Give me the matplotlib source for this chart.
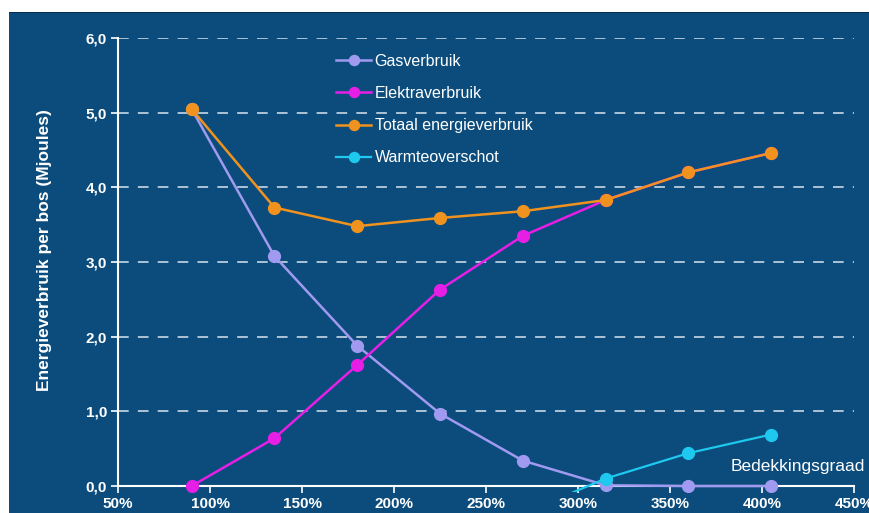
import matplotlib.pyplot as plt
from matplotlib.patches import Rectangle

# bedekkingsgraad (%)
bedekking = [90, 135, 180, 225, 270, 315, 360, 405]
gas = [5.05, 3.08, 1.88, 0.97, 0.34, 0.01, 0.0, 0.0]
elektra = [0.0, 0.64, 1.62, 2.63, 3.35, 3.83, 4.20, 4.46]
totaal = [5.05, 3.73, 3.48, 3.59, 3.68, 3.83, 4.20, 4.46]
warmte_x = [270, 315, 360, 405]
warmte = [-0.37, 0.10, 0.44, 0.69]

x_ticks = [50, 100, 150, 200, 250, 300, 350, 400, 450]
y_ticks = [0, 1, 2, 3, 4, 5, 6]

bg = "#0b4c7c"
plt.rcParams['font.family'] = ['Liberation Sans', 'DejaVu Sans']

fig = plt.figure(figsize=(8.69, 5.13), dpi=100, facecolor="white")
fig.patches.append(Rectangle((9/869, 0), 1, 1 - 12/513, transform=fig.transFigure,
                             facecolor=bg, edgecolor="none", zorder=-10))
fig.patches.append(Rectangle((9/869, 1 - 13/513), 1, 1.5/513, transform=fig.transFigure,
                             facecolor="#0a2b4b", edgecolor="none", zorder=-10))

ax = fig.add_axes([118/869, 1 - 492/513, (854 - 118)/869, (492 - 38)/513])
ax.set_facecolor("none")
ax.set_xlim(50, 450)
ax.set_ylim(-0.08, 6.0)

for y in y_ticks[1:]:
    ax.axhline(y, color="#d8e4ee", lw=1.1, dashes=(7, 6), zorder=1)

ms = 8.5
ax.plot(bedekking, gas, color="#a09af0", lw=1.8, marker="o", ms=ms, label="Gasverbruik", zorder=3)
ax.plot(bedekking, elektra, color="#e61ee6", lw=1.8, marker="o", ms=ms, label="Elektraverbruik", zorder=3)
ax.plot(bedekking, totaal, color="#f0921e", lw=1.8, marker="o", ms=ms, label="Totaal energieverbruik", zorder=4)
ax.plot(warmte_x, warmte, color="#1ec8ee", lw=1.6, marker="o", ms=ms, label="Warmteoverschot", zorder=3)

for s in ["top", "right"]:
    ax.spines[s].set_visible(False)
ax.spines["left"].set_color("white")
ax.spines["bottom"].set_color("white")
ax.spines["left"].set_linewidth(1.5)
ax.spines["bottom"].set_linewidth(1.5)
ax.spines["bottom"].set_position(("data", 0))
ax.spines["left"].set_bounds(0, 6)

ax.set_xticks(x_ticks)
ax.set_xticklabels([f"{v}%" for v in x_ticks])
ax.set_yticks(y_ticks)
ax.set_yticklabels([f"{v},0" for v in y_ticks])
ax.tick_params(colors="white", labelsize=11, length=5, width=1.2, pad=3)
for lbl in ax.get_xticklabels() + ax.get_yticklabels():
    lbl.set_fontweight("bold")

fig.text(45/869, 1 - 250/513, "Energieverbruik per bos (Mjoules)", rotation=90,
         color="white", fontsize=12.5, fontweight="bold", ha="center", va="center")
fig.text(865/869, 1 - 467/513, "Bedekkingsgraad", color="white", fontsize=12.5,
         ha="right", va="center")

leg = ax.legend(loc="upper left", bbox_to_anchor=(0.277, 0.997), frameon=False,
                labelcolor="white", fontsize=11.5, labelspacing=1.08, handlelength=2.2,
                handletextpad=0.2, markerscale=0.85)

plt.savefig("out.png", dpi=100, facecolor=fig.get_facecolor())
